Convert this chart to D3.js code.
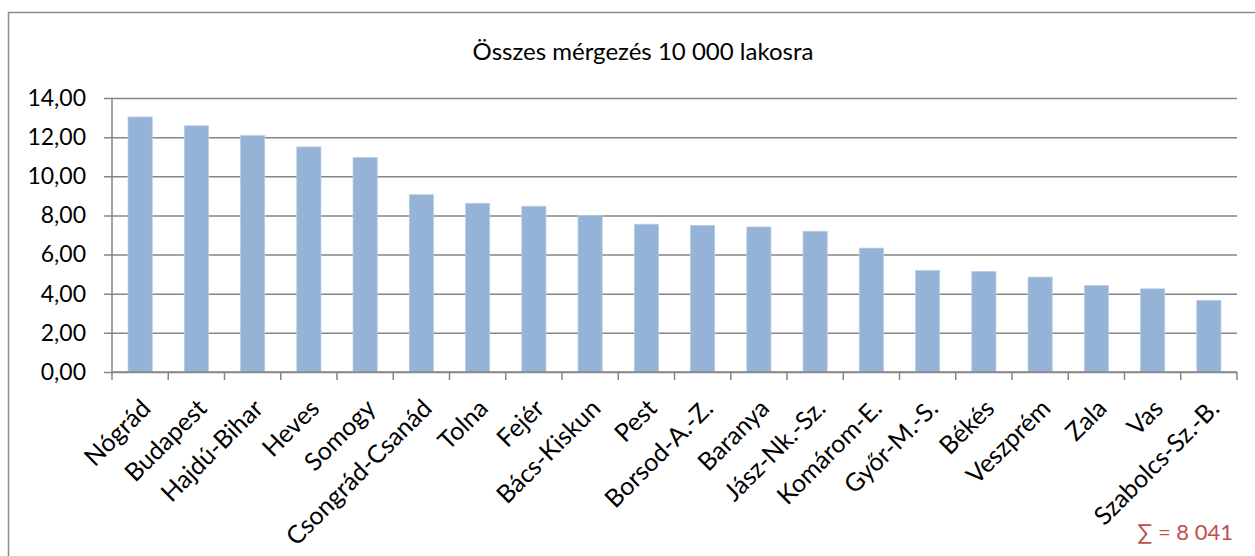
<!DOCTYPE html>
<html>
<head>
<meta charset="utf-8">
<script src="https://cdn.jsdelivr.net/npm/d3@7"></script>
<style>
  body { margin: 0; background: #fff; }
  svg { display: block; font-family: Lato, "Open Sans", sans-serif; }
</style>
</head>
<body>
<script>
// megyék és értékek (10 000 lakosra)
const counties = ["Nógrád", "Budapest", "Hajdú-Bihar", "Heves", "Somogy", "Csongrád-Csanád",
  "Tolna", "Fejér", "Bács-Kiskun", "Pest", "Borsod-A.-Z.", "Baranya", "Jász-Nk.-Sz.",
  "Komárom-E.", "Győr-M.-S.", "Békés", "Veszprém", "Zala", "Vas", "Szabolcs-Sz.-B."];
const rates = [13.03, 12.58, 12.08, 11.50, 10.96, 9.06, 8.62, 8.47, 7.99, 7.55, 7.49,
  7.41, 7.19, 6.33, 5.19, 5.14, 4.85, 4.42, 4.25, 3.66];
const yTicks = [0, 2, 4, 6, 8, 10, 12, 14];
const title = "Összes mérgezés 10 000 lakosra";
const total = "∑ = 8 041";

const width = 1255, height = 556;
const margin = { left: 112, right: 18, top: 98, bottom: 184 };
const innerWidth = width - margin.left - margin.right;
const innerHeight = height - margin.top - margin.bottom;

const svg = d3.select("body").append("svg")
  .attr("width", width)
  .attr("height", height);

// keret (jobb és alsó széle kilóg a képből)
svg.append("path")
  .attr("d", `M8.5,${height}V12.5H${width}`)
  .attr("fill", "none")
  .attr("stroke", "#8c8c8c")
  .attr("stroke-width", 1.5);

svg.append("text")
  .attr("x", 643)
  .attr("y", 60)
  .attr("text-anchor", "middle")
  .attr("font-size", 24)
  .attr("fill", "#000")
  .text(title);

const g = svg.append("g").attr("transform", `translate(${margin.left},${margin.top})`);

const x = d3.scaleBand()
  .domain(counties)
  .range([0, innerWidth])
  .paddingInner(0.57)
  .paddingOuter(0.285);

const y = d3.scaleLinear().domain([0, 14]).range([innerHeight, 0]);

// rácsvonalak + y tengely
const yAxis = g.append("g")
  .call(d3.axisLeft(y).tickValues(yTicks).tickSize(-innerWidth - 8).tickPadding(26)
    .tickFormat(d => d3.format(".2f")(d).replace(".", ",")));
yAxis.select(".domain").remove();
yAxis.selectAll(".tick line")
  .attr("x1", -8)
  .attr("x2", innerWidth)
  .attr("stroke", "#868686")
  .attr("stroke-width", 1.5);
yAxis.selectAll(".tick text")
  .attr("font-size", 23)
  .attr("fill", "#000")
  .attr("font-family", "Lato, sans-serif");

g.append("line")
  .attr("x1", 0).attr("x2", 0)
  .attr("y1", 0).attr("y2", innerHeight)
  .attr("stroke", "#868686").attr("stroke-width", 1.5);

// oszlopok
g.selectAll("rect.bar")
  .data(rates)
  .enter()
  .append("rect")
  .attr("class", "bar")
  .attr("x", (d, i) => x(counties[i]))
  .attr("y", d => y(d))
  .attr("width", x.bandwidth())
  .attr("height", d => innerHeight - y(d))
  .attr("fill", "#95b3d7")
  .attr("stroke", "#b9cde5")
  .attr("stroke-width", 0.75);

// x tengely
const step = x.step();
const xAxis = g.append("g").attr("transform", `translate(0,${innerHeight})`);
xAxis.append("line")
  .attr("x1", 0).attr("x2", innerWidth)
  .attr("stroke", "#868686").attr("stroke-width", 1.5);
xAxis.selectAll("line.tk")
  .data(d3.range(counties.length + 1))
  .enter()
  .append("line")
  .attr("class", "tk")
  .attr("x1", i => i * step).attr("x2", i => i * step)
  .attr("y1", 0).attr("y2", 8)
  .attr("stroke", "#868686").attr("stroke-width", 1.5);

xAxis.selectAll("text")
  .data(counties)
  .enter()
  .append("text")
  .attr("transform", d => `translate(${x(d) + x.bandwidth() / 2 + 12},${38}) rotate(-45)`)
  .attr("text-anchor", "end")
  .attr("font-size", 25)
  .attr("fill", "#000")
  .text(d => d);

svg.append("text")
  .attr("x", 1233)
  .attr("y", 540)
  .attr("text-anchor", "end")
  .attr("font-size", 22)
  .attr("fill", "#c0504d")
  .text(total);
</script>
</body>
</html>
